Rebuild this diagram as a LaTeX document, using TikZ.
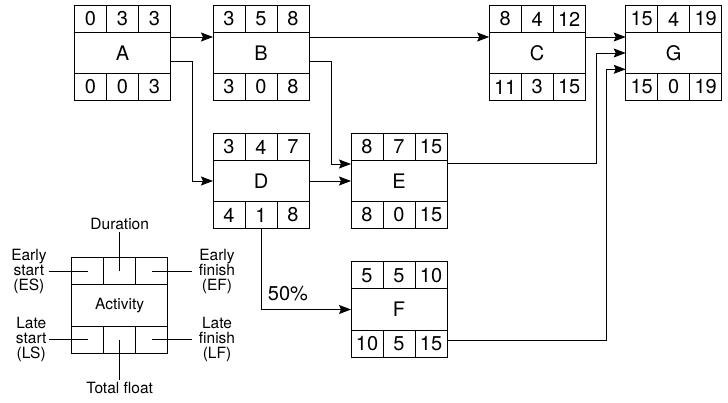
\documentclass[tikz,border=0pt]{standalone}
\usepackage{fontspec}
\setmainfont{TeX Gyre Heros}
\usetikzlibrary{positioning,arrows.meta}

\newcommand{\keyfont}{\fontsize{15.5}{15}\selectfont}
% one activity: name, centre, label, ES, duration, EF, LS, float, LF
\newcommand{\activity}[9]{%
  \node[act] (#1) at (#2) {#3};
  \node[cell, anchor=south west] (#1-es) at (#1.north west) {#4};
  \node[cell, right=0pt of #1-es] (#1-du) {#5};
  \node[cell, right=0pt of #1-du] (#1-ef) {#6};
  \node[cell, anchor=north west] (#1-ls) at (#1.south west) {#7};
  \node[cell, right=0pt of #1-ls] (#1-tf) {#8};
  \node[cell, right=0pt of #1-tf] (#1-lf) {#9};
}

\begin{document}
\begin{tikzpicture}[
  x=1pt, y=-1pt,
  font=\fontsize{20}{22}\selectfont,
  act/.style={
    rectangle, draw, line width=1pt,
    outer sep=0pt, inner sep=0pt,
    minimum width=96pt, minimum height=41pt
  },
  cell/.style={act, minimum width=32pt, minimum height=27pt},
  flow/.style={
    -{Stealth[length=12pt,width=9pt,inset=2pt]},
    line width=0.9pt
  },
  keyline/.style={line width=0.9pt},
  keytext/.style={font=\keyfont, align=center, inner sep=2pt},
  pct/.style={above=7pt, inner sep=1pt}
]
\useasboundingbox (0,0) rectangle (728,403);

% ---- activities -----------------------------------------------------------
\activity{A}{122.5,53}{A}{0}{3}{3}{0}{0}{3}
\activity{B}{261,53}{B}{3}{5}{8}{3}{0}{8}
\activity{C}{537.2,53}{C}{8}{4}{12}{11}{3}{15}
\activity{G}{673.7,53}{G}{15}{4}{19}{15}{0}{19}
\activity{D}{261,181}{D}{3}{4}{7}{4}{1}{8}
\activity{E}{399,181}{E}{8}{7}{15}{8}{0}{15}
\activity{F}{399,309.5}{F}{5}{5}{10}{10}{5}{15}

% ---- arrows ---------------------------------------------------------------
\draw[flow] ([yshift=-4.5pt]A.north east) -- ([yshift=-4.5pt]B.north west);
\draw[flow] ([yshift=-8pt]A.east) -- ++(22,0) |- (D.west);
\draw[flow] ([yshift=-4.5pt]B.north east) -- ([yshift=-4.5pt]C.north west);
\draw[flow] ([yshift=-8pt]B.east) -- ++(22,0) |- ([yshift=-3.5pt]E.north west);
\draw[flow] ([yshift=-4.5pt]C.north east) -- ([yshift=-4.5pt]G.north west);
\draw[flow] (D.east) -- (E.west);
\draw[flow] (D-tf) |- node[pct, pos=.65] {50\%} (F.west);
\draw[flow] ([yshift=-3pt]E.north east) -| ([xshift=-29pt]G.west) -- (G.west);
\draw[flow] ([yshift=3.5pt]F-lf.east) -| ([xshift=-19.5pt,yshift=-16.3pt]G.west)
  -- ([yshift=-16.3pt]G.west);

% ---- key ------------------------------------------------------------------
\activity{K}{119.7,305.5}{\keyfont Activity}{}{}{}{}{}{}
\node[keytext, left=23pt of K-es] (es) {Early\\start\\(ES)};
\node[keytext, left=23pt of K-ls] (ls) {Late\\start\\(LS)};
\node[keytext, inner xsep=7pt, right=24pt of K-ef] (ef) {Early\\finish\\(EF)};
\node[keytext, inner xsep=7pt, right=24pt of K-lf] (lf) {Late\\finish\\(LF)};
\node[keytext, above=26pt of K-du] (du) {Duration};
\node[keytext, below=27pt of K-tf] (tf) {Total float};

\draw[keyline] (es) -- (K-es.center);
\draw[keyline] (ls) -- (K-ls.center);
\draw[keyline] (ef) -- (K-ef.center);
\draw[keyline] (lf) -- (K-lf.center);
\draw[keyline] (du) -- (K-du.center);
\draw[keyline] (tf) -- (K-tf.center);

\end{tikzpicture}
\end{document}
